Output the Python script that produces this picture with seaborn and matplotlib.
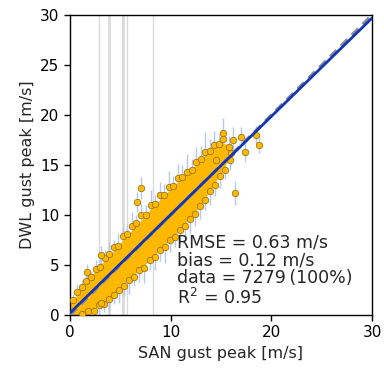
import numpy as np
import pandas as pd
import matplotlib
matplotlib.use("Agg")
import matplotlib.pyplot as plt
import seaborn as sns

# ---- data ----
band_x  = [0, 1, 2, 3, 4, 5, 6, 7, 8, 9, 10, 11, 12, 13, 14, 15, 16]
band_hi = [1.0, 2.4, 3.8, 5.0, 6.0, 7.2, 8.3, 9.4, 10.6, 11.6, 12.6, 13.6, 14.5, 15.6, 16.4, 17.2, 17.0]
band_lo = [0.0, 0.0, 0.4, 1.0, 1.8, 2.8, 3.8, 4.6, 5.6, 6.6, 7.6, 8.6, 9.8, 11.0, 12.6, 14.2, 16.0]

upper_x = [0.3, 0.7, 1.2, 1.6, 2.1, 2.6, 3.0, 3.5, 3.9, 4.4, 4.8, 5.3, 5.7, 6.2, 6.6, 7.1, 7.5,
           8.0, 8.4, 8.9, 9.3, 9.8, 10.2, 10.7, 11.1, 11.6, 12.1, 12.5, 13.0, 13.4, 13.9, 14.3, 14.8, 15.2]
upper_y = [1.5, 2.3, 2.8, 3.4, 3.8, 4.6, 4.8, 5.7, 6.1, 6.8, 6.9, 7.9, 8.1, 8.9, 9.2, 10.0, 10.0,
           11.0, 11.1, 12.0, 12.0, 12.8, 12.9, 13.7, 13.8, 14.3, 14.5, 15.3, 15.6, 16.3, 16.4, 17.0, 17.1, 17.6]
upper_err = [0.6, 0.8, 0.7, 1.0, 0.6, 0.9, 1.2, 0.8, 1.1, 0.7, 1.3, 0.9, 1.0, 1.4, 0.8, 1.2, 1.0,
             1.5, 0.9, 1.3, 1.1, 1.6, 1.0, 1.4, 1.2, 1.8, 1.1, 1.5, 1.3, 2.0, 1.2, 1.4, 1.0, 1.1]

lower_x = [1.2, 1.8, 2.4, 2.9, 3.4, 3.9, 4.4, 4.9, 5.4, 5.9, 6.4, 6.9, 7.4, 7.9, 8.4, 8.9, 9.4,
           9.9, 10.4, 10.9, 11.4, 11.9, 12.4, 12.9, 13.4, 13.9, 14.4, 14.9, 15.4, 15.9]
lower_y = [0.1, 0.4, 0.4, 1.0, 1.1, 1.6, 2.0, 2.5, 2.9, 3.5, 3.8, 4.5, 4.7, 5.5, 5.8, 6.5, 6.8,
           7.5, 7.8, 8.5, 8.9, 9.6, 10.1, 10.9, 11.5, 12.4, 13.0, 13.9, 14.5, 15.5]
lower_err = [0.6, 0.9, 0.7, 1.1, 0.8, 1.2, 0.9, 1.3, 1.0, 1.4, 0.9, 1.2, 1.5, 1.0, 1.3, 1.1, 1.6,
             1.2, 1.0, 1.4, 1.1, 1.5, 1.2, 1.3, 1.0, 1.4, 1.1, 1.2, 0.9, 1.0]

outlier_x = [1.65, 3.05, 3.05, 6.7, 7.1, 15.2, 17.0, 18.5, 18.8, 17.4, 16.4, 16.2, 15.8, 14.5, 16.0]
outlier_y = [4.3, 6.0, 1.2, 11.3, 12.7, 18.2, 17.8, 18.0, 17.0, 16.3, 12.2, 17.5, 16.8, 15.5, 16.2]
outlier_err = [0.8, 0.9, 0.6, 1.0, 1.1, 1.5, 1.0, 0.9, 0.8, 1.0, 1.2, 1.3, 1.1, 1.4, 1.2]

gap_lines_x = [2.9, 3.9, 5.3, 5.7, 8.2]
gap_lines_w = [1.0, 2.0, 2.0, 1.0, 1.0]

fit_slope = 0.983
fit_intercept = 0.2

stats_text = ["RMSE = 0.63 m/s", "bias = 0.12 m/s", "data = 7279\u2009(100%)", "R$^2$ = 0.95"]

df = pd.DataFrame({
    "SAN": upper_x + lower_x + outlier_x,
    "DWL": upper_y + lower_y + outlier_y,
    "err": upper_err + lower_err + outlier_err,
})

# ---- figure ----
sns.set_style("ticks")
plt.rcParams["font.family"] = ["DejaVu Sans"]
fig = plt.figure(figsize=(3.84, 3.70), dpi=100)
ax = fig.add_axes([70/384, 1-315/370, 302/384, 300/370])

for gx, gw in zip(gap_lines_x, gap_lines_w):
    ax.axvline(gx, color="#dadada", lw=gw, zorder=0)

ax.errorbar(df["SAN"], df["DWL"], yerr=df["err"], fmt="none",
            ecolor="#b4c7f7", elinewidth=1.0, zorder=1)

ax.fill_between(band_x, band_lo, band_hi, color="#ffb800", lw=0, zorder=2)
sns.scatterplot(data=df, x="SAN", y="DWL", ax=ax, color="#ffb800",
                edgecolor="#8a6a10", linewidth=0.5, s=22, zorder=3, legend=False)

ax.axline((0, 0), slope=1, color="#8c8c8c", lw=2.2, ls=(0, (3, 2)), zorder=4)
ax.axline((0, fit_intercept), slope=fit_slope, color="#1436b4", lw=2.0, zorder=5)

ax.text(10.6, 0.75, "\n".join(stats_text), fontsize=12.5, ha="left", va="bottom",
        linespacing=1.0, zorder=6)

ax.set_xlim(0, 30)
ax.set_ylim(0, 30)
ax.set_xticks([0, 10, 20, 30])
ax.set_yticks([0, 5, 10, 15, 20, 25, 30])
ax.tick_params(labelsize=11, length=4, width=1, colors="black")
ax.set_xlabel("SAN gust peak [m/s]", fontsize=11.5)
ax.set_ylabel("DWL gust peak [m/s]", fontsize=11.5)
for s in ax.spines.values():
    s.set_visible(True)
    s.set_color("black")
    s.set_linewidth(1)

fig.savefig("out.png", dpi=100)
